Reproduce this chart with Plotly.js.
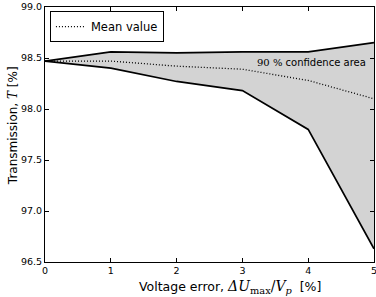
<!DOCTYPE html>
<html><head><meta charset="utf-8">
<script src="https://cdn.plot.ly/plotly-3.0.1.min.js"></script>
<style>html,body{margin:0;padding:0;background:#fff;}#chart{width:376px;height:297px;}</style>
</head><body><div id="chart"></div>
<script>
const voltageError = [0, 1, 2, 3, 4, 5];
const upperBound = [98.47, 98.56, 98.55, 98.56, 98.56, 98.65];
const lowerBound = [98.47, 98.40, 98.27, 98.18, 97.80, 96.63];
const meanValue = [98.47, 98.47, 98.42, 98.39, 98.28, 98.10];
const xTicks = [0, 1, 2, 3, 4, 5];
const yTicks = [96.5, 97.0, 97.5, 98.0, 98.5, 99.0];
const yTickText = ['96.5', '97.0', '97.5', '98.0', '98.5', '99.0'];
const xTitle = 'Voltage error, <span style="font-family:DejaVu Serif;font-size:14px"><i>ΔU</i><sub>max</sub>/<i>V<sub>p</sub></i></span>  [%]';
const yTitle = 'Transmission, <span style="font-family:DejaVu Serif"><i>T</i></span> [%]';
const areaLabel = '<span style="font-family:DejaVu Serif">90 %</span> confidence area';

const font = 'DejaVu Sans, sans-serif';
const traces = [
  {x: voltageError, y: lowerBound, mode: 'lines', line: {color: '#000', width: 1.7}, showlegend: false, hoverinfo: 'skip'},
  {x: voltageError, y: upperBound, mode: 'lines', line: {color: '#000', width: 1.7}, fill: 'tonexty', fillcolor: '#d3d3d3', showlegend: false, hoverinfo: 'skip'},
  {x: voltageError, y: meanValue, mode: 'lines', name: 'Mean value', line: {color: '#000', width: 1.3, dash: '1px,2px'}}
];
const axisCommon = {showline: true, linecolor: '#000', linewidth: 1, mirror: 'ticks', ticks: 'inside', ticklen: 4, tickcolor: '#000', showgrid: false, zeroline: false, ticklabeloverflow: 'allow', tickfont: {family: font, size: 9.5, color: '#000'}};
const layout = {
  width: 376, height: 297,
  margin: {l: 45, r: 2, t: 7, b: 35},
  paper_bgcolor: '#fff', plot_bgcolor: '#fff',
  font: {family: font, color: '#000'},
  xaxis: Object.assign({}, axisCommon, {range: [0, 5], tickvals: xTicks, ticktext: xTicks.map(String)}),
  yaxis: Object.assign({}, axisCommon, {range: [96.5, 99.0], tickvals: yTicks, ticktext: yTickText}),
  legend: {x: 0.015, y: 0.984, xanchor: 'left', yanchor: 'top', bgcolor: '#fff', bordercolor: '#000', borderwidth: 1, font: {family: font, size: 11.5}, itemwidth: 30},
  annotations: [
    {x: 4.05, y: 98.46, xref: 'x', yref: 'y', text: areaLabel, showarrow: false, font: {family: font, size: 10, color: '#000'}},
    {x: 0.562, y: -0.054, xref: 'paper', yref: 'paper', text: xTitle, showarrow: false, xanchor: 'center', yanchor: 'top', font: {family: font, size: 12.5, color: '#000'}},
    {x: -0.097, y: 0.533, xref: 'paper', yref: 'paper', text: yTitle, showarrow: false, textangle: -90, xanchor: 'center', yanchor: 'middle', font: {family: font, size: 12, color: '#000'}}
  ]
};
Plotly.newPlot('chart', traces, layout, {displayModeBar: false, staticPlot: true});
</script></body></html>
